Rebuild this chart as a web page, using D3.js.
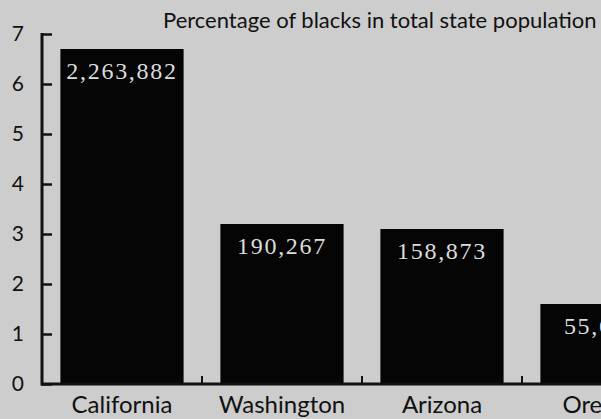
<!DOCTYPE html>
<html>
<head>
<meta charset="utf-8">
<script src="https://cdn.jsdelivr.net/npm/d3@7"></script>
<style>
  html, body { margin: 0; padding: 0; background: #cdcdcd; }
  svg { display: block; }
</style>
</head>
<body>
<div id="chart"></div>
<script>
// data
const states = ["California", "Washington", "Arizona", "Oregon"];
const percentBlack = [6.7, 3.2, 3.1, 1.6];
const blackPopulation = ["2,263,882", "190,267", "158,873", "55,662"];
const yTicks = [0, 1, 2, 3, 4, 5, 6, 7];
const title = "Percentage of blacks in total state population";

const width = 601, height = 419;
const margin = { top: 34, left: 42, bottom: 35 };

const svg = d3.select("#chart")
    .append("svg")
    .attr("width", width)
    .attr("height", height);

svg.append("rect")
    .attr("width", width)
    .attr("height", height)
    .attr("fill", "#cdcdcd");

let x = d3.scaleBand()
    .domain(states)
    .range([margin.left, margin.left + 640])
    .paddingInner(0.23)
    .paddingOuter(0.115);

let y = d3.scaleLinear()
    .domain([0, 7])
    .range([height - margin.bottom, margin.top]);

// bars
svg.append("g")
    .attr("fill", "#050505")
    .selectAll("rect")
    .data(states)
    .join("rect")
    .attr("x", d => x(d))
    .attr("y", (d, i) => y(percentBlack[i]))
    .attr("width", x.bandwidth())
    .attr("height", (d, i) => y(0) - y(percentBlack[i]));

// population labels inside bars
svg.append("g")
    .selectAll("text")
    .data(states)
    .join("text")
    .attr("x", d => x(d) + x.bandwidth() / 2)
    .attr("y", (d, i) => y(percentBlack[i]) + 30)
    .attr("text-anchor", "middle")
    .style("font-family", "'Liberation Serif', 'DejaVu Serif', serif")
    .style("font-size", "24px")
    .style("letter-spacing", "1.7px")
    .attr("fill", "#dcdcdc")
    .text((d, i) => blackPopulation[i]);

// y axis
let yAxis = g => g
    .attr("transform", `translate(${margin.left},0)`)
    .call(d3.axisRight(y).tickValues(yTicks).tickSize(10).tickFormat(d3.format("d")))
    .call(g => g.select(".domain").remove())
    .call(g => g.selectAll("line").attr("stroke", "#111").attr("stroke-width", 2.5))
    .call(g => g.selectAll("text")
        .attr("x", -18)
        .attr("text-anchor", "end")
        .style("font-family", "Lato, 'Open Sans', sans-serif")
        .style("font-size", "21px")
        .attr("fill", "#111"));

svg.append("g").call(yAxis);

svg.append("line")
    .attr("x1", margin.left)
    .attr("x2", margin.left)
    .attr("y1", y(7) - 1)
    .attr("y2", y(0) + 1.5)
    .attr("stroke", "#111")
    .attr("stroke-width", 3);

// x axis with ticks between the bars
let gapTicks = states.slice(1).map(d => x(d) - x.step() * x.paddingInner() / 2);

svg.append("line")
    .attr("x1", margin.left - 1)
    .attr("x2", width)
    .attr("y1", y(0))
    .attr("y2", y(0))
    .attr("stroke", "#111")
    .attr("stroke-width", 3);

svg.append("g")
    .selectAll("line")
    .data(gapTicks)
    .join("line")
    .attr("x1", d => d)
    .attr("x2", d => d)
    .attr("y1", y(0))
    .attr("y2", y(0) - 8)
    .attr("stroke", "#111")
    .attr("stroke-width", 2);

svg.append("g")
    .selectAll("text")
    .data(states)
    .join("text")
    .attr("x", d => x(d) + x.bandwidth() / 2)
    .attr("y", y(0) + 29)
    .attr("text-anchor", "middle")
    .style("font-family", "Lato, 'Open Sans', sans-serif")
    .style("font-size", "24px")
    .attr("fill", "#111")
    .text(d => d);

// title
svg.append("text")
    .attr("x", 163)
    .attr("y", 28)
    .style("font-family", "Lato, 'Open Sans', sans-serif")
    .style("font-size", "22px")
    .attr("fill", "#111")
    .text(title);
</script>
</body>
</html>
